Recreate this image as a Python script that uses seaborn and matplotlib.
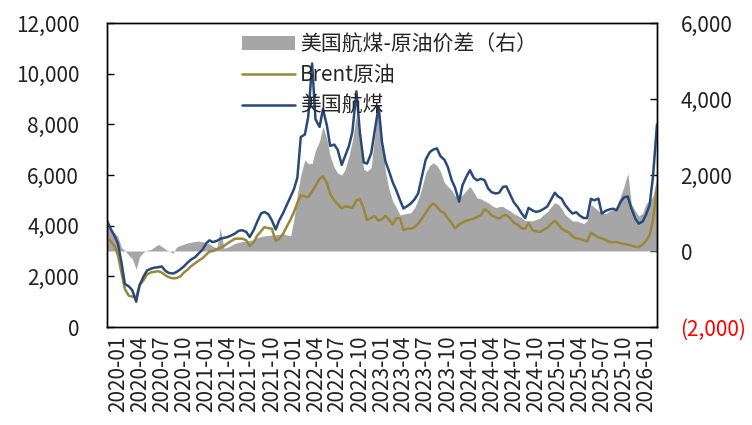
import numpy as np
import pandas as pd
import matplotlib
matplotlib.use('Agg')
import matplotlib.pyplot as plt
from matplotlib.patches import Patch
from matplotlib.lines import Line2D
import seaborn as sns

sns.set_theme(style='white')
plt.rcParams['font.family'] = ['Noto Sans CJK SC', 'DejaVu Sans']
plt.rcParams['axes.unicode_minus'] = False

# semi-monthly points, 2020-01 .. 2026-04
dates = pd.date_range('2020-01-01', '2026-04-01', freq='SMS')

jet = [4200, 3900, 3600, 3300, 2550, 1700, 1600, 1450, 1000, 1650,
       2000, 2230, 2300, 2340, 2360, 2390, 2200, 2130, 2110, 2170,
       2280, 2390, 2550, 2660, 2760, 2900, 3060, 3300, 3420, 3350,
       3400, 3480, 3520, 3550, 3620, 3690, 3800, 3820, 3750, 3550,
       3830, 4150, 4480, 4540, 4450, 4210, 3850, 4200, 4500, 4800,
       5150, 5450, 5900, 7500, 7600, 8300, 10400, 8200, 7900, 8600,
       7970, 7150, 7200, 7000, 6400, 6750, 7150, 7700, 9300, 7700,
       6500, 6450, 6850, 7700, 8700, 7300, 6550, 6180, 5700, 5400,
       5000, 4680, 4780, 4880, 5050, 5270, 6000, 6600, 6900, 7000,
       7050, 6750, 6600, 6320, 5800, 5500, 4950, 5600, 5950, 6190,
       5900, 5790, 5850, 5800, 5460, 5320, 5270, 5300, 5530, 5550,
       5200, 4920, 4720, 4500, 4300, 4700, 4600, 4540, 4580, 4650,
       4760, 5000, 5300, 5150, 5070, 4830, 4620, 4480, 4530, 4400,
       4300, 4300, 5060, 5000, 5070, 4480, 4590, 4640, 4670, 4610,
       4940, 5120, 5150, 4700, 4280, 4080, 4170, 4450, 4800, 5900,
       8000]

brent = [3550, 3400, 3200, 2850, 2150, 1500, 1230, 1200, 1150, 1650,
         1850, 2080, 2150, 2180, 2200, 2150, 2030, 1960, 1920, 1930,
         2000, 2150, 2270, 2400, 2520, 2620, 2720, 2850, 2980, 3000,
         3070, 3130, 3200, 3300, 3400, 3487, 3490, 3490, 3420, 3200,
         3350, 3600, 3780, 3940, 3900, 3880, 3400, 3480, 3680, 3950,
         4250, 4550, 4900, 5200, 5150, 5130, 5350, 5560, 5850, 5950,
         5700, 5250, 5000, 4850, 4680, 4760, 4740, 4700, 5000, 5050,
         4680, 4220, 4300, 4380, 4200, 4250, 4390, 4250, 4050, 4300,
         4280, 3820, 3880, 3880, 3950, 4080, 4300, 4500, 4740, 4880,
         4750, 4580, 4490, 4300, 4100, 3890, 4050, 4120, 4200, 4240,
         4280, 4340, 4420, 4650, 4550, 4410, 4330, 4280, 4400, 4420,
         4280, 4120, 4030, 3900, 3880, 4100, 3820, 3780, 3750, 3830,
         3920, 4050, 4200, 4050, 3880, 3800, 3730, 3580, 3490, 3480,
         3420, 3380, 3720, 3640, 3540, 3500, 3440, 3360, 3350, 3350,
         3310, 3280, 3250, 3210, 3170, 3150, 3260, 3400, 3620, 4200,
         5550]

spread = [700, 560, 480, 380, 90, 20, -120, -200, -480, -150,
          -30, 20, 40, 100, 175, 120, 40, 0, -60, 100,
          150, 180, 215, 230, 250, 263, 240, 215, 190, 120,
          80, 600, 70, 100, 150, 200, 230, 250, 260, 280,
          300, 350, 380, 400, 410, 420, 430, 440, 450, 420,
          400, 850, 1500, 2000, 2400, 2300, 2300, 2650, 2900, 3280,
          2950, 2500, 2200, 2050, 2000, 2150, 2500, 2900, 3600, 2850,
          2150, 2100, 2200, 3000, 3850, 2900, 2100, 1650, 1300, 1150,
          950, 970, 990, 1010, 1150, 1350, 1700, 2050, 2250, 2320,
          2250, 2100, 1800, 1700, 1600, 1450, 1400, 1480, 1600, 1700,
          1550, 1400, 1370, 1320, 1270, 1200, 1140, 1170, 1170, 1110,
          1050, 980, 930, 880, 800, 800, 790, 830, 870, 950,
          1030, 1150, 1270, 1230, 1120, 965, 870, 790, 790, 760,
          720, 800, 1220, 1150, 1060, 990, 990, 1050, 1090, 1140,
          1450, 1700, 2050, 1250, 1050, 920, 1000, 1250, 1310, 1450,
          1930]

labels = ['美国航煤-原油价差（右）', 'Brent原油', '美国航煤']
left_ticks = [0, 2000, 4000, 6000, 8000, 10000, 12000]
right_ticks = [-2000, 0, 2000, 4000, 6000]

df = pd.DataFrame({'date': dates, 'jet': jet, 'brent': brent, 'spread': spread})

gray = '#A6A6A6'
olive = '#9A873A'
navy = '#274A78'

fig = plt.figure(figsize=(7.52, 4.25), dpi=100)
ax = fig.add_axes([107 / 752, 1 - 327 / 425, 550 / 752, 304 / 425])
ax2 = ax.twinx()

# spread area on right axis, behind the lines
ax2.fill_between(df['date'], 0, df['spread'], color=gray, linewidth=0)
sns.lineplot(data=df, x='date', y='brent', ax=ax, color=olive, linewidth=1.8)
sns.lineplot(data=df, x='date', y='jet', ax=ax, color=navy, linewidth=1.8)
ax.set_zorder(ax2.get_zorder() + 1)
ax.patch.set_visible(False)

ax.set_xlabel('')
ax.set_ylabel('')
ax.set_xlim(pd.Timestamp('2020-01-01'), pd.Timestamp('2026-04-01'))
ax.set_ylim(0, 12000)
ax2.set_ylim(-2000, 6000)

# quarter boundaries as tick marks, labels centred in each quarter
q_starts = pd.date_range('2020-01-01', '2026-01-01', freq='QS')
ax.set_xticks(q_starts[1:])
ax.set_xticklabels([])
ax.set_xticks(q_starts + pd.Timedelta(days=45), minor=True)
ax.set_xticklabels([d.strftime('%Y-%m') for d in q_starts], minor=True, rotation=90)
ax.tick_params(axis='x', which='major', direction='in', length=5, width=1, color='black')
ax.tick_params(axis='x', which='minor', length=0, pad=6, labelsize=15, colors='#222222')

ax.set_yticks(left_ticks)
ax.set_yticklabels([f'{v:,}' for v in left_ticks])
ax.tick_params(axis='y', direction='in', length=5, width=1, color='black', pad=20,
               labelsize=15, labelcolor='#222222', left=True)

ax2.set_yticks(right_ticks)
ax2.set_yticklabels([f'({abs(v):,})' if v < 0 else f'{v:,}' for v in right_ticks])
ax2.tick_params(axis='y', direction='in', length=5, width=1, color='black', pad=17,
                labelsize=15, labelcolor='#222222', right=True)
for t, v in zip(ax2.get_yticklabels(), right_ticks):
    if v < 0:
        t.set_color('red')

for a in (ax, ax2):
    a.grid(False)
    for s in a.spines.values():
        s.set_color('black')
        s.set_linewidth(1.0)

handles = [Patch(facecolor=gray, edgecolor='none'),
           Line2D([], [], color=olive, linewidth=1.8),
           Line2D([], [], color=navy, linewidth=1.8)]
ax.legend(handles, labels, loc='upper left', bbox_to_anchor=(0.226, 1.0), frameon=False,
          fontsize=15, handlelength=2.55, handletextpad=0.25, labelspacing=0.42,
          borderaxespad=0.1, borderpad=0.4)

fig.savefig('out.png', dpi=100)
